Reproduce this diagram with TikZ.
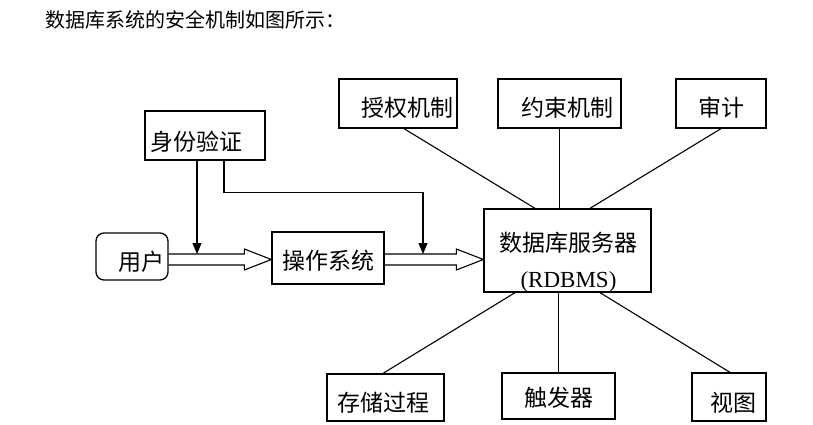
\documentclass[tikz,border=0pt]{standalone}
\usepackage{fontspec}
\setmainfont{Liberation Serif}
\newfontfamily\cjk{Noto Sans CJK SC}
\usetikzlibrary{arrows.meta, calc}

\tikzset{
  box/.style={draw, line width=1.3pt, inner sep=0pt},
  tx/.style={font=\cjk\fontsize{23}{27}\selectfont, inner sep=0pt},
  link/.style={line width=1.1pt},
  arr/.style={line width=1.1pt, -{Triangle[width=9pt,length=11pt]}},
  fat/.style={line width=1.1pt},
}

% hollow double arrow: #1 start, #2 tip
\newcommand{\fatarrow}[2]{%
  \draw[fat] ($(#1)+(0,-5.5)$) -- ($(#2)+(-27,-5.5)$) -- ($(#2)+(-27,-10.5)$) -- (#2)
    -- ($(#2)+(-27,10.5)$) -- ($(#2)+(-27,5.5)$) -- ($(#1)+(0,5.5)$);}

\begin{document}
\begin{tikzpicture}[x=1pt, y=-1pt]
  \useasboundingbox (0,0) rectangle (813,425);

  \node[anchor=west, inner sep=0pt, font=\cjk\fontsize{20}{24}\selectfont] (title) at (45,20) {数据库系统的安全机制如图所示：};

  % left side
  \node[box, minimum width=120, minimum height=49, label={[tx, xshift=-9pt, yshift=-6.5pt]center:身份验证}] (auth) at (205,135.5) {};
  \node[box, rounded corners=8pt, minimum width=72, minimum height=47, label={[tx, xshift=9pt, yshift=-5.5pt]center:用户}] (user) at (132,256.5) {};
  \node[box, minimum width=112, minimum height=52, label={[tx, yshift=-3pt]center:操作系统}] (os) at (328,258) {};

  % server
  \node[box, minimum width=167, minimum height=83, label={[tx, font=\cjk\fontsize{23}{36}\selectfont, align=center, xshift=1pt, yshift=-12pt]center:数据库服务器\\{\rmfamily (RDBMS)}}] (db) at (567.5,250.5) {};

  % top row
  \node[box, minimum width=118, minimum height=49, label={[tx, xshift=9pt, yshift=-4.5pt]center:授权机制}] (grant) at (398,103.5) {};
  \node[box, minimum width=123, minimum height=49, label={[tx, xshift=8pt, yshift=-4.5pt]center:约束机制}] (cons) at (559.5,103.5) {};
  \node[box, minimum width=90, minimum height=49, label={[tx, yshift=-4.5pt]center:审计}] (audit) at (721,103.5) {};

  % bottom row
  \node[box, minimum width=117, minimum height=47, label={[tx, xshift=-2.5pt, yshift=-5.5pt]center:存储过程}] (proc) at (385.5,397.5) {};
  \node[box, minimum width=113, minimum height=46, label={[tx, yshift=-2pt]center:触发器}] (trig) at (558.5,396) {};
  \node[box, minimum width=74, minimum height=48, label={[tx, xshift=4.5pt, yshift=-6pt]center:视图}] (view) at (729,397) {};

  % flow
  \coordinate (ln) at (0,259.5);
  \coordinate (top) at (0,254);
  \coordinate (u0) at (user.east |- ln);
  \coordinate (o0) at (os.west |- ln);
  \coordinate (o1) at (os.east |- ln);
  \coordinate (d0) at (db.west |- ln);
  \fatarrow{u0}{o0}
  \fatarrow{o1}{d0}

  \coordinate (a1) at ([xshift=-8pt]auth.south);
  \coordinate (a2) at ([xshift=19pt]auth.south);
  \coordinate (sink) at (423,254);
  \draw[arr] (a1) -- (a1 |- top);
  \draw[arr] (a2) -- ++(0,32) -| (sink);

  % spokes
  \draw[link] ([xshift=6pt]grant.south) -- ([xshift=-32.5pt]db.north);
  \draw[link] (cons.south) -- (cons.south |- db.north);
  \draw[link] (audit.south) -- ([xshift=22.5pt]db.north);
  \draw[link] ([xshift=-2.5pt]proc.north) -- ([xshift=-52.5pt]db.south);
  \draw[link] (trig.north) -- (trig.north |- db.south);
  \draw[link] ([xshift=1pt]view.north) -- ([xshift=32.5pt]db.south);
\end{tikzpicture}
\end{document}
